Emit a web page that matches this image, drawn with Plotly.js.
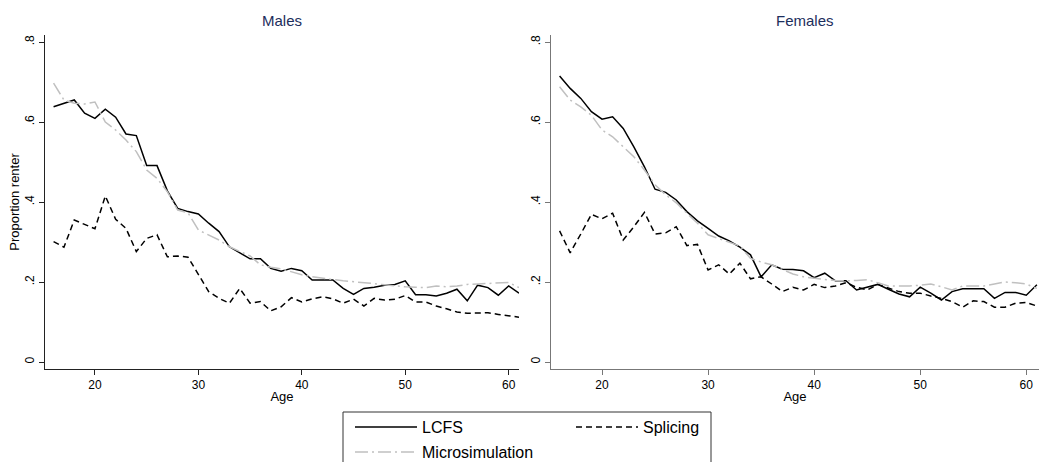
<!DOCTYPE html>
<html>
<head>
<meta charset="utf-8">
<script src="https://cdn.plot.ly/plotly-3.0.1.min.js"></script>
<style>html,body{margin:0;padding:0;background:#fff;}#chart{width:1040px;height:462px;}</style>
</head>
<body>
<div id="chart"></div>
<script>
var ages = [16,17,18,19,20,21,22,23,24,25,26,27,28,29,30,31,32,33,34,35,36,37,38,39,40,41,42,43,44,45,46,47,48,49,50,51,52,53,54,55,56,57,58,59,60,61];

var malesLCFS = [0.638,0.647,0.655,0.622,0.609,0.632,0.612,0.570,0.566,0.491,0.491,0.428,0.384,0.376,0.370,0.347,0.326,0.288,0.272,0.258,0.258,0.234,0.227,0.234,0.228,0.205,0.205,0.205,0.184,0.169,0.184,0.187,0.192,0.194,0.203,0.168,0.168,0.165,0.172,0.182,0.153,0.192,0.186,0.167,0.190,0.172];
var malesSplicing = [0.301,0.287,0.355,0.345,0.333,0.415,0.357,0.334,0.276,0.309,0.318,0.263,0.265,0.262,0.220,0.176,0.159,0.147,0.184,0.147,0.151,0.128,0.138,0.161,0.150,0.158,0.163,0.158,0.147,0.157,0.140,0.159,0.155,0.157,0.166,0.150,0.150,0.140,0.133,0.125,0.122,0.122,0.123,0.119,0.115,0.112];
var malesMicro = [0.697,0.655,0.647,0.645,0.650,0.600,0.580,0.555,0.526,0.480,0.459,0.426,0.380,0.373,0.330,0.318,0.305,0.288,0.276,0.265,0.243,0.237,0.233,0.225,0.218,0.213,0.209,0.206,0.203,0.201,0.199,0.196,0.193,0.190,0.188,0.187,0.186,0.190,0.188,0.190,0.194,0.195,0.196,0.197,0.199,0.186];

var femalesLCFS = [0.715,0.684,0.659,0.626,0.607,0.613,0.584,0.538,0.488,0.432,0.424,0.405,0.376,0.353,0.334,0.315,0.303,0.287,0.268,0.213,0.243,0.232,0.231,0.228,0.211,0.222,0.203,0.203,0.180,0.187,0.194,0.182,0.170,0.163,0.187,0.172,0.155,0.176,0.183,0.183,0.183,0.159,0.174,0.174,0.167,0.193];
var femalesSplicing = [0.328,0.273,0.320,0.369,0.358,0.372,0.305,0.338,0.374,0.320,0.323,0.338,0.291,0.294,0.230,0.243,0.220,0.247,0.208,0.213,0.195,0.176,0.187,0.180,0.194,0.186,0.190,0.198,0.187,0.180,0.194,0.185,0.176,0.172,0.172,0.165,0.159,0.151,0.137,0.153,0.151,0.137,0.137,0.147,0.149,0.140];
var femalesMicro = [0.688,0.655,0.638,0.617,0.580,0.563,0.538,0.513,0.480,0.443,0.418,0.398,0.372,0.347,0.318,0.309,0.300,0.290,0.259,0.250,0.243,0.232,0.220,0.213,0.209,0.206,0.204,0.203,0.204,0.206,0.198,0.190,0.190,0.190,0.192,0.195,0.188,0.180,0.190,0.190,0.190,0.195,0.200,0.198,0.195,0.184];

var seriesNames = ['LCFS', 'Splicing', 'Microsimulation'];
var panelTitles = ['Males', 'Females'];
var xTickVals = [20, 30, 40, 50, 60];
var yTickVals = [0, 0.2, 0.4, 0.6, 0.8];
var yTickText = ['0', '.2', '.4', '.6', '.8'];

var FONT = 'Liberation Sans, Arial, Helvetica, sans-serif';
var styles = {
  'LCFS': {color: '#000000', width: 1.5, dash: 'solid'},
  'Splicing': {color: '#000000', width: 1.5, dash: '6px,4px'},
  'Microsimulation': {color: '#c0c0c0', width: 1.5, dash: '13px,4px,2px,4px'}
};
var legendOf = {'LCFS': 'legend', 'Splicing': 'legend', 'Microsimulation': 'legend2'};

function mk(x, y, name, xa, ya, show) {
  var s = styles[name];
  return {
    x: x, y: y, name: name, type: 'scatter', mode: 'lines',
    xaxis: xa, yaxis: ya, showlegend: show, legend: legendOf[name],
    line: {color: s.color, width: s.width, dash: s.dash},
    hoverinfo: 'x+y+name'
  };
}

var traces = [
  mk(ages, malesLCFS, seriesNames[0], 'x', 'y', true),
  mk(ages, malesSplicing, seriesNames[1], 'x', 'y', true),
  mk(ages, malesMicro, seriesNames[2], 'x', 'y', true),
  mk(ages, femalesLCFS, seriesNames[0], 'x2', 'y2', false),
  mk(ages, femalesSplicing, seriesNames[1], 'x2', 'y2', false),
  mk(ages, femalesMicro, seriesNames[2], 'x2', 'y2', false)
];

var W = 1040, H = 462;
function px(v) { return v / W; }
function py(v) { return 1 - v / H; }

function xAxis(domain, range, color, anchor) {
  return {
    domain: domain, range: range, anchor: anchor,
    showgrid: false, zeroline: false, showline: true, linecolor: color, linewidth: 1,
    ticks: 'outside', ticklen: 5, tickwidth: 1, tickcolor: color,
    tickvals: xTickVals, tickfont: {family: FONT, size: 12, color: '#000'},
    title: {text: 'Age', font: {family: FONT, size: 13, color: '#000'}, standoff: 0},
    fixedrange: true
  };
}
function yAxis(domain, color, anchor, withTitle) {
  var a = {
    domain: domain, range: [-0.0175, 0.8175], anchor: anchor,
    showgrid: false, zeroline: false, showline: true, linecolor: color, linewidth: 1,
    ticks: 'outside', ticklen: 5, tickwidth: 1, tickcolor: color,
    tickvals: yTickVals, ticktext: yTickText, tickangle: -90,
    tickfont: {family: FONT, size: 12, color: '#000'},
    fixedrange: true
  };
  if (withTitle) a.title = {text: 'Proportion renter', font: {family: FONT, size: 13, color: '#000'}, standoff: 0};
  return a;
}

var yDom = [py(369), py(35)];
var layout = {
  width: W, height: H,
  margin: {l: 0, r: 0, t: 0, b: 0, autoexpand: false},
  paper_bgcolor: '#fff', plot_bgcolor: '#fff',
  font: {family: FONT, color: '#000'},
  xaxis: xAxis([px(45), px(519)], [15.17, 61.0], '#222', 'y'),
  yaxis: yAxis(yDom, '#222', 'x', true),
  xaxis2: xAxis([px(551), px(1039)], [15.19, 61.2], '#777', 'y2'),
  yaxis2: yAxis(yDom, '#777', 'x2', false),
  annotations: [
    {text: panelTitles[0], xref: 'paper', yref: 'paper', x: px(282), y: py(21), xanchor: 'center', yanchor: 'middle', showarrow: false, font: {family: FONT, size: 15, color: '#1c2e5c'}},
    {text: panelTitles[1], xref: 'paper', yref: 'paper', x: px(805), y: py(21), xanchor: 'center', yanchor: 'middle', showarrow: false, font: {family: FONT, size: 15, color: '#1c2e5c'}}
  ],
  shapes: [
    {type: 'rect', xref: 'paper', yref: 'paper', x0: px(343), x1: px(711), y0: py(412), y1: py(475), line: {color: '#333', width: 1}, fillcolor: 'rgba(0,0,0,0)', layer: 'above'}
  ],
  legend: {
    orientation: 'h', x: px(350), y: py(410), xanchor: 'left', yanchor: 'top',
    bgcolor: 'rgba(0,0,0,0)', borderwidth: 0, itemwidth: 62, entrywidth: 144, entrywidthmode: 'pixels',
    font: {family: FONT, size: 16, color: '#000'}, itemclick: false, itemdoubleclick: false
  },
  legend2: {
    orientation: 'h', x: px(350), y: py(435), xanchor: 'left', yanchor: 'top',
    bgcolor: 'rgba(0,0,0,0)', borderwidth: 0, itemwidth: 62,
    font: {family: FONT, size: 16, color: '#000'}, itemclick: false, itemdoubleclick: false
  },
  showlegend: true
};

Plotly.newPlot('chart', traces, layout, {displayModeBar: false, staticPlot: true});
</script>
</body>
</html>
